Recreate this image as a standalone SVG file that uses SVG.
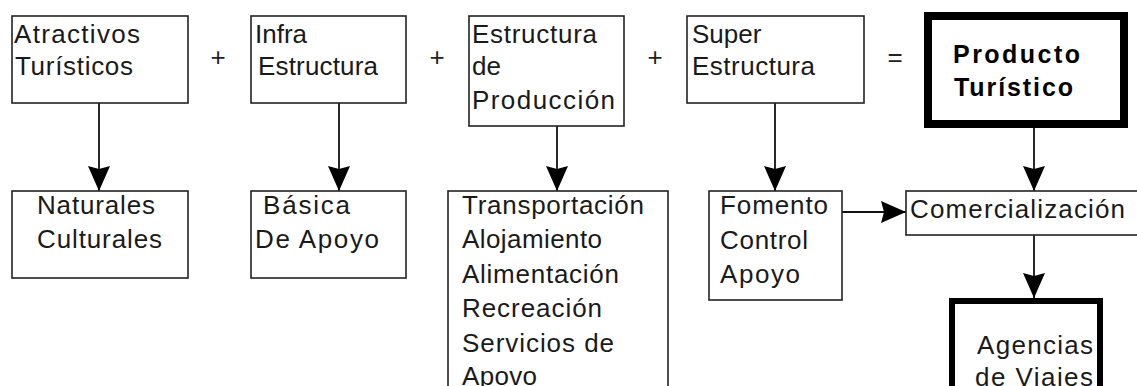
<svg xmlns="http://www.w3.org/2000/svg" width="1137" height="386" viewBox="0 0 1137 386">
<style>
.box{fill:#fff;stroke:#222;stroke-width:1.6}
.thick{fill:#fff;stroke:#000;stroke-width:8}
.t{font-family:"Liberation Sans",Arial,sans-serif;font-size:26px;fill:#1a1a1a}
.b{font-family:"Liberation Sans",Arial,sans-serif;font-size:25px;font-weight:bold;fill:#000}
.op{font-family:"Liberation Sans",Arial,sans-serif;font-size:26px;fill:#222;text-anchor:middle}
.c{stroke:#111;stroke-width:1.8;fill:none}
</style>
<defs>
<marker id="ah" markerUnits="userSpaceOnUse" markerWidth="26" markerHeight="24" refX="25" refY="11" orient="auto">
<path d="M0,0 L25,11 L0,22 L3,11 z" fill="#000"/>
</marker>
</defs>
<rect width="1137" height="386" fill="#fff"/>
<g id="connectors">
<line class="c" x1="99" y1="103" x2="99" y2="191" marker-end="url(#ah)"/>
<line class="c" x1="339" y1="103" x2="339" y2="191" marker-end="url(#ah)"/>
<line class="c" x1="557" y1="126" x2="557" y2="191" marker-end="url(#ah)"/>
<line class="c" x1="775" y1="103" x2="775" y2="191" marker-end="url(#ah)"/>
<line class="c" x1="1034" y1="128" x2="1034" y2="191" marker-end="url(#ah)"/>
<line class="c" x1="842" y1="212" x2="906" y2="212" marker-end="url(#ah)"/>
<line class="c" x1="1034" y1="235" x2="1034" y2="298" marker-end="url(#ah)"/>
</g>
<g id="ops">
<text class="op" x="218" y="66">+</text>
<text class="op" x="437" y="66">+</text>
<text class="op" x="655" y="66">+</text>
<text class="op" x="895" y="66">=</text>
</g>
<g id="atractivos">
<rect class="box" x="12" y="16" width="176" height="87"/>
<text class="t" x="14" y="43" textLength="126" lengthAdjust="spacing">Atractivos</text>
<text class="t" x="15" y="75" textLength="118" lengthAdjust="spacing">Turísticos</text>
</g>
<g id="infra">
<rect class="box" x="251" y="16" width="155" height="87"/>
<text class="t" x="255" y="43">Infra</text>
<text class="t" x="258" y="75" textLength="120" lengthAdjust="spacing">Estructura</text>
</g>
<g id="produccion">
<rect class="box" x="469" y="16" width="155" height="110"/>
<text class="t" x="472" y="43" textLength="125" lengthAdjust="spacing">Estructura</text>
<text class="t" x="472" y="75">de</text>
<text class="t" x="472" y="109" textLength="143" lengthAdjust="spacing">Producción</text>
</g>
<g id="super">
<rect class="box" x="687" y="16" width="177" height="87"/>
<text class="t" x="692" y="43">Super</text>
<text class="t" x="692" y="75" textLength="123" lengthAdjust="spacing">Estructura</text>
</g>
<g id="producto">
<rect class="thick" x="928" y="16" width="196" height="108"/>
<text class="b" x="953" y="63" textLength="127" lengthAdjust="spacing">Producto</text>
<text class="b" x="954" y="96" textLength="119" lengthAdjust="spacing">Turístico</text>
</g>
<g id="naturales">
<rect class="box" x="12" y="191" width="176" height="87"/>
<text class="t" x="37" y="214" textLength="118" lengthAdjust="spacing">Naturales</text>
<text class="t" x="37" y="248" textLength="125" lengthAdjust="spacing">Culturales</text>
</g>
<g id="basica">
<rect class="box" x="251" y="191" width="155" height="87"/>
<text class="t" x="263" y="214" textLength="87" lengthAdjust="spacing">Básica</text>
<text class="t" x="255" y="248" textLength="124" lengthAdjust="spacing">De Apoyo</text>
</g>
<g id="transportacion">
<rect class="box" x="448" y="191" width="220" height="220"/>
<text class="t" x="462" y="214" textLength="182" lengthAdjust="spacing">Transportación</text>
<text class="t" x="462" y="248" textLength="140" lengthAdjust="spacing">Alojamiento</text>
<text class="t" x="462" y="283" textLength="157" lengthAdjust="spacing">Alimentación</text>
<text class="t" x="462" y="317" textLength="140" lengthAdjust="spacing">Recreación</text>
<text class="t" x="462" y="352" textLength="152" lengthAdjust="spacing">Servicios de</text>
<text class="t" x="462" y="385" textLength="75" lengthAdjust="spacing">Apovo</text>
</g>
<g id="fomento">
<rect class="box" x="709" y="191" width="133" height="109"/>
<text class="t" x="720" y="214" textLength="108" lengthAdjust="spacing">Fomento</text>
<text class="t" x="720" y="249" textLength="88" lengthAdjust="spacing">Control</text>
<text class="t" x="720" y="283" textLength="80" lengthAdjust="spacing">Apoyo</text>
</g>
<g id="comercializacion">
<rect class="box" x="906" y="191" width="240" height="44"/>
<text class="t" x="910" y="218" textLength="215" lengthAdjust="spacing">Comercialización</text>
</g>
<g id="agencias">
<rect class="thick" x="952" y="301" width="148" height="110" style="stroke-width:6"/>
<text class="t" x="977" y="354" textLength="116" lengthAdjust="spacing">Agencias</text>
<text class="t" x="975" y="386" textLength="118" lengthAdjust="spacing">de Viajes</text>
</g>
</svg>
